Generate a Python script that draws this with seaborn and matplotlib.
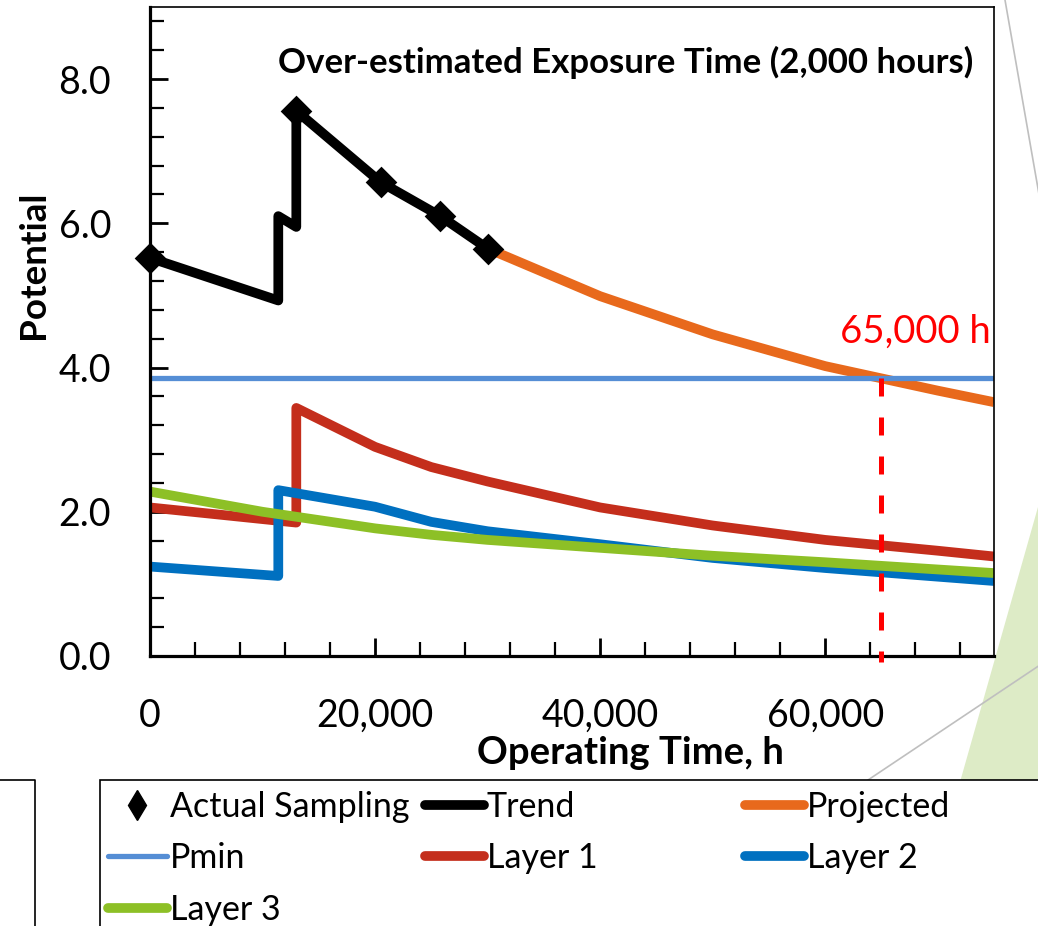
import numpy as np
import pandas as pd
import matplotlib
matplotlib.use("Agg")
import matplotlib.pyplot as plt
from matplotlib.lines import Line2D
from matplotlib.patches import Polygon, Rectangle
from matplotlib.ticker import MultipleLocator, FuncFormatter
import seaborn as sns

# ---------------- data ----------------
sample_hours = [0, 13000, 20500, 25800, 30000]
sample_potential = [5.52, 7.56, 6.57, 6.10, 5.65]

trend_hours = [0, 11400, 11400, 13000, 13000, 20500, 25800, 30000]
trend_potential = [5.52, 4.93, 6.10, 5.95, 7.56, 6.57, 6.10, 5.65]

projected_hours = [30000, 40000, 50000, 60000, 70000, 75000]
projected_potential = [5.65, 4.99, 4.46, 4.02, 3.68, 3.52]

pmin_hours = [0, 75000]
pmin_potential = [3.85, 3.85]

layer1_hours = [0, 13000, 13000, 20000, 25000, 30000, 40000, 50000, 60000, 70000, 75000]
layer1_potential = [2.06, 1.85, 3.44, 2.90, 2.62, 2.42, 2.06, 1.81, 1.61, 1.46, 1.38]

layer2_hours = [0, 11400, 11400, 20000, 25000, 30000, 40000, 50000, 60000, 70000, 75000]
layer2_potential = [1.24, 1.11, 2.30, 2.07, 1.86, 1.73, 1.55, 1.36, 1.22, 1.10, 1.04]

layer3_hours = [0, 10000, 20000, 25000, 30000, 40000, 50000, 60000, 70000, 75000]
layer3_potential = [2.28, 2.00, 1.77, 1.68, 1.61, 1.50, 1.39, 1.30, 1.20, 1.15]

end_of_life_hours = 65000
end_of_life_label = "65,000 h"
title_text = "Over-estimated Exposure Time (2,000 hours)"
x_label = "Operating Time, h"
y_label = "Potential"

# ---------------- styling ----------------
sns.set_theme(style="white")
plt.rcParams["font.family"] = ["Lato", "DejaVu Sans"]

W, H = 1038, 926
fig = plt.figure(figsize=(W / 100, H / 100), dpi=100)
fig.patch.set_facecolor("white")


def fx(px):
    return px / W


def fy(py):
    return 1 - py / H


ax = fig.add_axes([fx(150), fy(656), fx(994) - fx(150), fy(7) - fy(656)])
ax.set_facecolor("white")

C_TREND = "#000000"
C_PROJ = "#E8691C"
C_PMIN = "#558ED5"
C_L1 = "#C42E1C"
C_L2 = "#0070C0"
C_L3 = "#8DC026"
LW = 7.0
LW_PMIN = 3.8


def draw(xs, ys, color, lw, z):
    df = pd.DataFrame({"h": xs, "p": ys})
    sns.lineplot(data=df, x="h", y="p", ax=ax, color=color, linewidth=lw,
                 sort=False, estimator=None, legend=False, zorder=z,
                 solid_capstyle="butt", solid_joinstyle="round")


draw(trend_hours, trend_potential, C_TREND, LW, 2.0)
draw(projected_hours, projected_potential, C_PROJ, LW, 2.1)
draw(pmin_hours, pmin_potential, C_PMIN, LW_PMIN, 2.2)
draw(layer1_hours, layer1_potential, C_L1, LW, 2.3)
draw(layer2_hours, layer2_potential, C_L2, LW, 2.4)
draw(layer3_hours, layer3_potential, C_L3, LW, 2.5)

sc = sns.scatterplot(x=sample_hours, y=sample_potential, ax=ax, marker="D",
                     s=260, color="black", edgecolor="black", linewidth=0,
                     zorder=3, legend=False)
for coll in ax.collections:
    coll.set_clip_on(False)

# dashed end-of-life line from Pmin down past the axis
ax.plot([end_of_life_hours, end_of_life_hours], [pmin_potential[0], -0.08],
        color="#FF0000", lw=3.6, dashes=(3.6, 4.2), clip_on=False, zorder=4)
ax.text(74700, 4.49, end_of_life_label, color="#FF0000", fontsize=27.5,
        fontweight="normal", ha="right", va="center", zorder=5)

ax.text(0.563, 0.915, title_text, transform=ax.transAxes, ha="center",
        va="center", fontsize=25, fontweight="bold", color="black")

# axes
ax.set_xlim(0, 75000)
ax.set_ylim(0, 9)
ax.xaxis.set_major_locator(MultipleLocator(20000))
ax.xaxis.set_minor_locator(MultipleLocator(4000))
ax.yaxis.set_major_locator(MultipleLocator(2))
ax.yaxis.set_minor_locator(MultipleLocator(0.4))
ax.xaxis.set_major_formatter(FuncFormatter(lambda v, p: f"{v:,.0f}"))
ax.yaxis.set_major_formatter(FuncFormatter(lambda v, p: f"{v:.1f}"))
ax.tick_params(axis="both", which="both", direction="in", colors="black")
ax.tick_params(axis="x", which="major", bottom=True, top=False, length=13,
               width=2, labelsize=27, pad=30)
ax.tick_params(axis="x", which="minor", bottom=True, top=False, length=10,
               width=1.6)
ax.tick_params(axis="y", which="major", left=True, right=False, length=13,
               width=2, labelsize=27, pad=28)
ax.tick_params(axis="y", which="minor", left=True, right=False, length=10,
               width=1.6)
for s in ["left", "bottom"]:
    ax.spines[s].set_linewidth(2.3)
    ax.spines[s].set_color("black")
for s in ["top", "right"]:
    ax.spines[s].set_linewidth(1.2)
    ax.spines[s].set_color("black")

ax.set_xlabel(x_label, fontsize=27.5, fontweight="bold", color="black")
ax.set_ylabel(y_label, fontsize=26.5, fontweight="bold", color="black")
ax.xaxis.set_label_coords(0.569, -0.124)
ax.yaxis.set_label_coords(-0.118, 0.602)

# ---------------- slide decorations ----------------
fig.add_artist(Polygon([(fx(960), fy(782)), (fx(1040), fy(500)),
                        (fx(1040), fy(782))], closed=True,
                       transform=fig.transFigure, facecolor="#DDEBC6",
                       edgecolor="none", zorder=0))
fig.add_artist(Line2D([fx(1005), fx(1040)], [fy(0), fy(200)],
                      transform=fig.transFigure, color="#BFBFBF", lw=1.2,
                      zorder=0.5))
fig.add_artist(Line2D([fx(868), fx(1040)], [fy(780), fy(665)],
                      transform=fig.transFigure, color="#BFBFBF", lw=1.2,
                      zorder=0.5))
fig.add_artist(Line2D([fx(0), fx(35), fx(35)], [fy(780), fy(780), fy(930)],
                      transform=fig.transFigure, color="black", lw=1.2,
                      zorder=1))

# ---------------- legend ----------------
fig.add_artist(Rectangle((fx(100), fy(940)), fx(1050) - fx(100),
                         fy(780) - fy(940), transform=fig.transFigure,
                         facecolor="white", edgecolor="black", lw=1.2,
                         zorder=1))


def lh(color, lw):
    return Line2D([], [], color=color, lw=lw, solid_capstyle="round")


h_sample = Line2D([], [], color="black", marker="d", markersize=15,
                  linestyle="none")
common = dict(frameon=False, fontsize=24.5, borderpad=0, labelspacing=0.57,
              handlelength=1.72, handletextpad=0.1, borderaxespad=0,
              loc="upper left")
cols = [
    (108, [h_sample, lh(C_PMIN, LW_PMIN), lh(C_L3, LW)],
     ["Actual Sampling", "Pmin", "Layer 3"]),
    (425, [lh(C_TREND, LW), lh(C_L1, LW)], ["Trend", "Layer 1"]),
    (745, [lh(C_PROJ, LW), lh(C_L2, LW)], ["Projected", "Layer 2"]),
]
for x0, hs, ls in cols:
    leg = fig.legend(handles=hs, labels=ls, bbox_to_anchor=(fx(x0), fy(791)),
                     **common)
    leg.set_zorder(2)
    for t in leg.get_texts():
        t.set_color("black")

fig.savefig("out.png", dpi=100, facecolor="white")
